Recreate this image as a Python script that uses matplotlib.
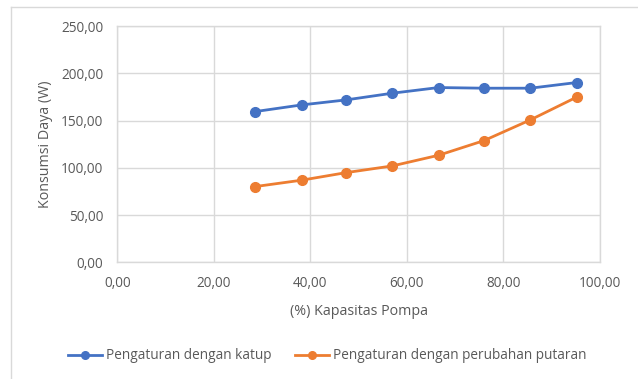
import matplotlib
matplotlib.use("Agg")
import matplotlib.pyplot as plt
from matplotlib.ticker import FuncFormatter, MultipleLocator
from matplotlib.lines import Line2D

plt.rcParams['font.family'] = ['Open Sans', 'DejaVu Sans']

kapasitas = [28.5, 38.2, 47.4, 57.0, 66.6, 76.0, 85.6, 95.2]
daya_katup = [159.5, 166.6, 171.9, 179.0, 185.0, 184.3, 184.3, 190.3]
daya_putaran = [80.1, 86.9, 94.9, 102.0, 113.3, 128.8, 150.7, 174.8]
label_katup = "Pengaturan dengan katup"
label_putaran = "Pengaturan dengan perubahan putaran"

blue = "#4472C4"
orange = "#ED7D31"
grid_c = "#D9D9D9"
text_c = "#595959"

fig = plt.figure(figsize=(6.38, 3.79), dpi=100)
ax = fig.add_axes([0.184, 0.308, 0.756, 0.623])

ax.plot(kapasitas, daya_katup, color=blue, lw=2, marker='o', ms=7, label=label_katup)
ax.plot(kapasitas, daya_putaran, color=orange, lw=2, marker='o', ms=7, label=label_putaran)

ax.set_xlim(0, 100)
ax.set_ylim(0, 250)
ax.xaxis.set_major_locator(MultipleLocator(20))
ax.yaxis.set_major_locator(MultipleLocator(50))
fmt = FuncFormatter(lambda v, p: f"{v:.2f}".replace('.', ','))
ax.xaxis.set_major_formatter(fmt)
ax.yaxis.set_major_formatter(fmt)

ax.grid(True, color=grid_c, lw=1)
ax.set_axisbelow(True)
for s in ax.spines.values():
    s.set_color(grid_c)
    s.set_linewidth(1)
ax.tick_params(length=0, labelsize=9.8, labelcolor=text_c)
ax.tick_params(axis='y', pad=10)
ax.tick_params(axis='x', pad=10)

ax.set_xlabel("(%) Kapasitas Pompa", fontsize=10.3, color=text_c, labelpad=9)
ax.set_ylabel("Konsumsi Daya (W)", fontsize=10.3, color=text_c, labelpad=6)

handles = [Line2D([], [], color=blue, lw=2, marker='o', ms=5.5),
           Line2D([], [], color=orange, lw=2, marker='o', ms=5.5)]
fig.legend(handles, [label_katup, label_putaran], loc='center', bbox_to_anchor=(0.513, 0.061),
           ncol=2, frameon=False, fontsize=9.8, labelcolor=text_c,
           handlelength=2.5, handletextpad=0.3, columnspacing=1.75)

# chart area border (top and left edges)
fig.add_artist(Line2D([11/638, 11/638], [0, 1 - 7/379], transform=fig.transFigure, color=grid_c, lw=1))
fig.add_artist(Line2D([11/638, 1], [1 - 7/379, 1 - 7/379], transform=fig.transFigure, color=grid_c, lw=1))

fig.savefig("out.png", dpi=100)
